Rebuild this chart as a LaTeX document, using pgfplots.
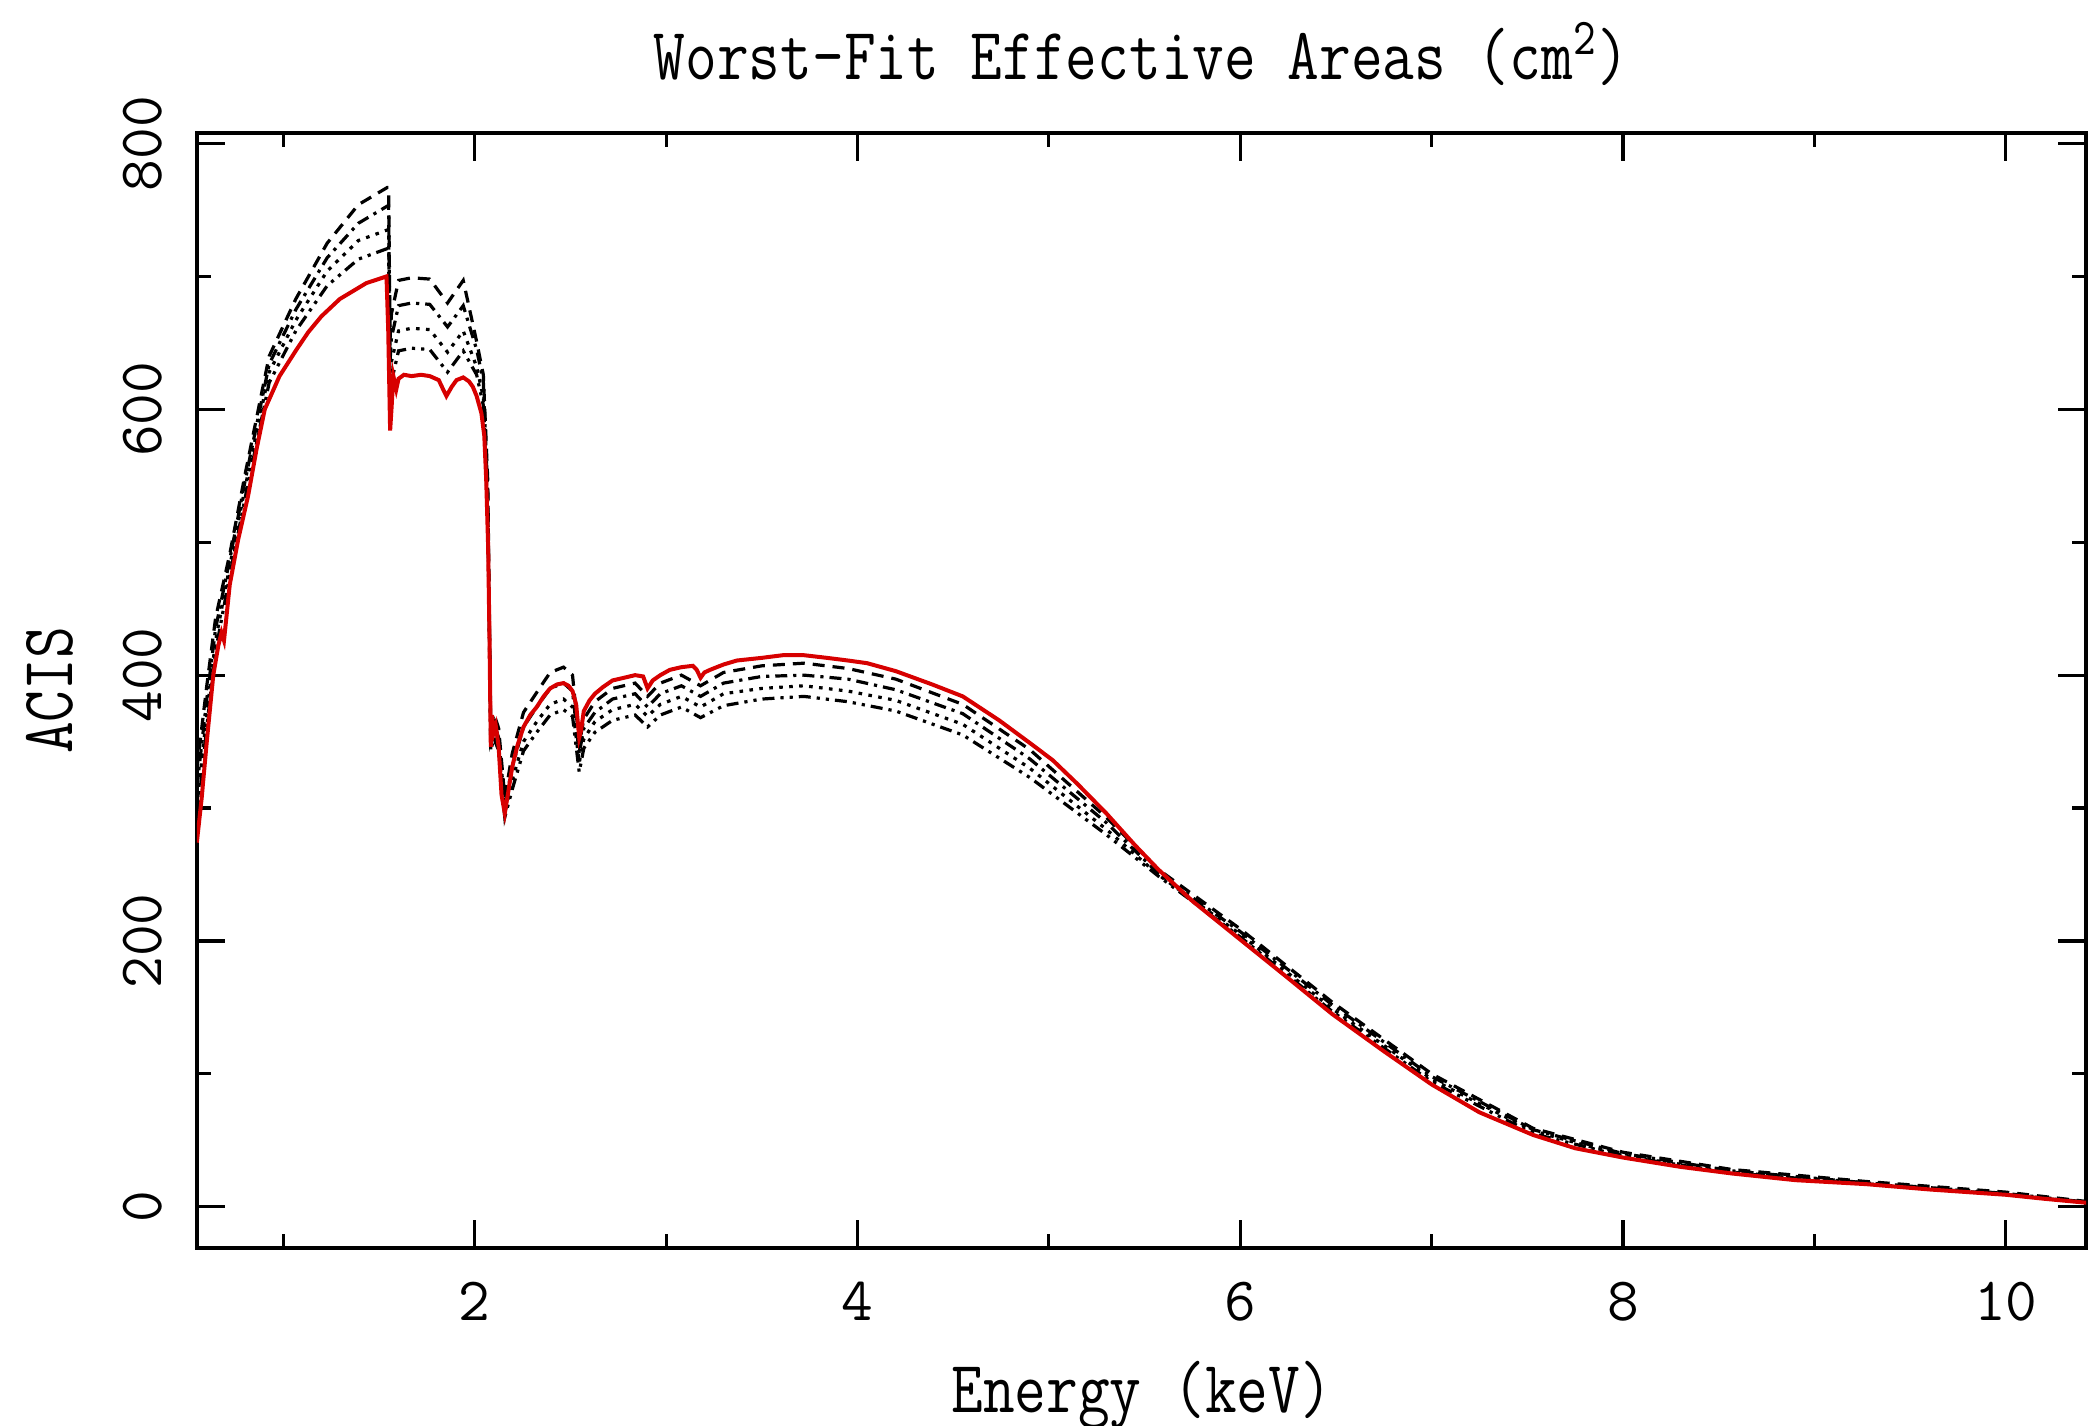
\documentclass[border=0pt]{standalone}
\usepackage{pgfplots}
\pgfplotsset{compat=1.18}
\usepackage{pgfplotstable}
\usepackage{graphicx}
\definecolor{fitred}{RGB}{215,0,0}
\pgfplotstableread{
E v
0.548 274
0.573 307
0.600 350
0.634 400
0.660 422
0.677 432
0.690 426
0.700 440
0.720 468
0.764 502
0.816 535
0.860 570
0.903 600
0.980 625
1.069 645
1.130 658
1.199 670
1.295 683
1.434 695
1.539 700
1.548 660
1.558 584
1.565 600
1.575 625
1.590 615
1.602 623
1.630 626
1.670 625
1.720 626
1.765 625
1.812 622
1.835 615
1.852 610
1.880 617
1.905 622
1.940 624
1.970 621
1.990 617
2.010 610
2.035 597
2.050 580
2.060 547
2.070 497
2.077 430
2.084 346
2.090 370
2.100 357
2.110 362
2.125 346
2.140 310
2.157 296
2.175 312
2.196 331
2.225 348
2.255 361
2.290 370
2.324 376
2.360 384
2.394 390
2.430 393
2.464 394
2.490 392
2.511 388
2.530 378
2.546 353
2.555 358
2.570 373
2.600 381
2.628 386
2.670 391
2.720 396
2.780 398
2.838 400
2.880 399
2.903 390
2.930 396
2.970 400
3.020 404
3.080 406
3.140 407
3.160 404
3.180 398
3.200 402
3.230 404
3.300 408
3.370 411
3.500 413
3.610 415
3.720 415
3.840 413
3.950 411
4.050 409
4.200 403
4.390 393
4.550 384
4.740 366
4.900 349
5.020 336
5.150 318
5.300 296
5.450 272
5.570 254
5.750 230
6.000 201
6.250 172
6.480 145
6.750 117
7.000 92
7.250 71
7.530 54
7.750 44
8.000 37
8.300 30
8.570 25
8.900 20
9.270 17
9.600 13
10.000 9
10.200 6
10.420 3
}\redtable
\pgfplotstableread{
E A B C D
0.548 329 315 301 290
0.600 392 382 371 361
0.646 443 435 426 418
0.720 491 487 482 475
0.800 551 546 541 533
0.926 640 634 628 620
1.065 683 675 667 659
1.229 725 714 704 693
1.392 754 740 727 713
1.544 767 753 735 721
1.550 767 753 735 721
1.558 654 637 619 604
1.565 672 654 636 621
1.602 697 678 659 644
1.670 699 680 661 646
1.765 698 679 660 645
1.858 680 662 643 628
1.940 697 678 659 644
2.010 651 645 632 626
2.045 626 621 609 603
2.068 547 537 526 521
2.084 360 353 346 343
2.100 371 364 357 353
2.125 360 353 346 343
2.157 308 302 296 293
2.196 341 331 321 314
2.255 372 361 350 343
2.324 387 376 365 357
2.394 402 390 378 370
2.464 406 394 382 374
2.511 400 388 376 369
2.546 348 341 334 327
2.570 367 360 352 345
2.628 380 372 365 357
2.720 390 382 374 366
2.838 394 386 378 370
2.903 384 376 369 361
2.970 394 386 378 370
3.080 400 392 384 376
3.180 392 384 376 368
3.300 402 394 386 377
3.500 407 399 390 382
3.720 409 400 392 384
3.950 405 397 388 380
4.200 397 389 381 373
4.550 378 371 363 355
4.900 344 337 330 323
5.300 293 289 284 280
5.570 254 251 250 249
6.000 209 207 205 203
6.480 154 152 149 147
7.000 100 98 96 94
7.530 59 58 57 55
8.000 41 40 38.5 38
8.570 28 27 26 25.5
9.270 19 18 18 17.3
10.000 11 10 9.5 9.2
10.420 4 3.5 3.2 3.1
}\blktable
\newcommand{\lblfont}{\ttfamily\fontsize{15.4}{18}\selectfont}
\begin{document}
\begin{tikzpicture}
\begin{axis}[
  at={(0,0)}, anchor=south west,
  scale only axis, width=472.75pt, height=279pt,
  xmin=0.548, xmax=10.42, ymin=-31, ymax=808,
  xtick={2,4,6,8,10}, minor xtick={1,3,5,7,9},
  ytick={0,200,400,600,800}, minor ytick={100,300,500,700},
  xtick pos=both, ytick pos=both,
  tick align=inside,
  major tick length=7pt, minor tick length=3.5pt,
  axis line style={line width=1pt},
  every tick/.append style={black, line width=0.8pt},
  tick label style={font=\lblfont},
  /pgf/number format/assume math mode=true,
  xticklabel style={anchor=base, yshift=-18.25pt},
  yticklabel style={xshift=-8.75pt, rotate=90, anchor=base},
]
\addplot[black, line width=0.8pt, dash pattern=on 3pt off 2pt] table[x=E, y=A] {\blktable};
\addplot[black, line width=0.8pt, dash pattern=on 3pt off 1.5pt on 0.8pt off 1.5pt] table[x=E, y=B] {\blktable};
\addplot[black, line width=0.8pt, dash pattern=on 0.9pt off 1.6pt] table[x=E, y=C] {\blktable};
\addplot[black, line width=0.8pt, dash pattern=on 3pt off 1.5pt on 0.8pt off 1.5pt on 0.8pt off 1.5pt] table[x=E, y=D] {\blktable};
\addplot[fitred, line width=1pt] table[x=E, y=v] {\redtable};
\end{axis}
\node[anchor=base] at (236.4pt,292.25pt) {\scalebox{1}[1.2]{\lblfont Worst-Fit Effective Areas (cm\textsuperscript{2})}};
\node[anchor=base] at (236.4pt,-41.25pt) {\scalebox{1}[1.2]{\lblfont Energy (keV)}};
\node[anchor=base, rotate=90] at (-31pt,139.5pt) {\scalebox{1}[1.2]{\lblfont ACIS}};
\pgfresetboundingbox
\path[use as bounding box] (-49.25pt,-44.5pt) rectangle (473.2pt,312.25pt);
\end{tikzpicture}
\end{document}
